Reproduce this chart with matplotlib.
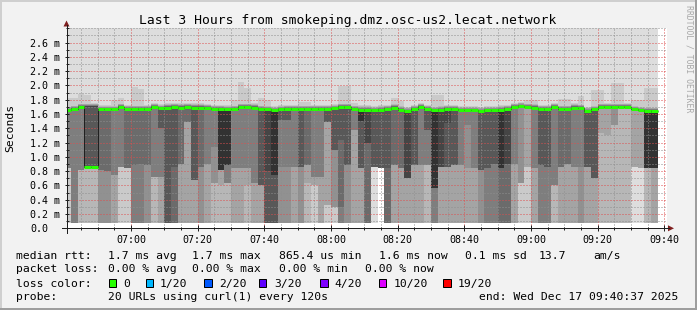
import numpy as np
import matplotlib
matplotlib.use("Agg")
import matplotlib.pyplot as plt
from matplotlib.lines import Line2D
from matplotlib.patches import Rectangle, Polygon
from matplotlib.ticker import FixedLocator, MultipleLocator

# ---------------- data ----------------
title = "Last 3 Hours from smokeping.dmz.osc-us2.lecat.network"
# time in minutes after 06:00
t_start, t_end = 40 + 37 / 60, 220 + 37 / 60
col_first = 40          # first 2-minute column starts 06:40
col_step = 2
x_major = [60, 80, 100, 120, 140, 160, 180, 200, 220]
x_major_labels = ["07:00", "07:20", "07:40", "08:00", "08:20", "08:40", "09:00", "09:20", "09:40"]
y_major = [0.0, 0.2, 0.4, 0.6, 0.8, 1.0, 1.2, 1.4, 1.6, 1.8, 2.0, 2.2, 2.4, 2.6]
y_major_labels = ["0.0", "0.2 m", "0.4 m", "0.6 m", "0.8 m", "1.0 m", "1.2 m", "1.4 m",
                  "1.6 m", "1.8 m", "2.0 m", "2.2 m", "2.4 m", "2.6 m"]

# median rtt (ms) per 2-minute column
median = [1.65, 1.67, 1.70, 0.86, 0.86, 1.665, 1.665, 1.665, 1.70, 1.67,
          1.67, 1.67, 1.67, 1.70, 1.68, 1.69, 1.70, 1.69, 1.70, 1.69,
          1.69, 1.685, 1.67, 1.67, 1.665, 1.67, 1.70, 1.70, 1.69, 1.67,
          1.665, 1.65, 1.665, 1.67, 1.67, 1.67, 1.67, 1.67, 1.67, 1.67,
          1.68, 1.70, 1.70, 1.67, 1.66, 1.66, 1.65, 1.66, 1.67, 1.69,
          1.66, 1.64, 1.67, 1.70, 1.67, 1.65, 1.66, 1.67, 1.67, 1.65,
          1.65, 1.65, 1.64, 1.65, 1.65, 1.66, 1.67, 1.70, 1.71, 1.70,
          1.69, 1.67, 1.67, 1.70, 1.67, 1.67, 1.69, 1.685, 1.64, 1.665,
          1.70, 1.70, 1.70, 1.70, 1.70, 1.665, 1.65, 1.645, 1.645]
# level where the upper half of the pings sits
shoulder = [1.65, 1.67, 1.70, 1.70, 1.70, 1.665, 1.665, 1.665, 1.70, 1.67,
            1.67, 1.67, 1.67, 1.70, 1.68, 1.69, 1.70, 1.69, 1.70, 1.69,
            1.69, 1.685, 1.67, 1.67, 1.665, 1.67, 1.70, 1.70, 1.69, 1.67,
            1.665, 1.65, 1.665, 1.67, 1.67, 1.67, 1.67, 1.67, 1.67, 1.67,
            1.68, 1.70, 1.70, 1.67, 1.66, 1.66, 1.65, 1.66, 1.67, 1.69,
            1.66, 1.64, 1.67, 1.70, 1.67, 1.65, 1.66, 1.67, 1.67, 1.65,
            1.65, 1.65, 1.64, 1.65, 1.65, 1.66, 1.67, 1.70, 1.71, 1.70,
            1.69, 1.67, 1.67, 1.70, 1.67, 1.67, 1.69, 1.685, 1.64, 1.665,
            1.70, 1.70, 1.70, 1.70, 1.70, 1.665, 1.65, 1.645, 1.645]
# lowest ping per column
base = [0.07] * 47 + [0.84] + [0.07] * 41
# smoke layers of the lower pings: ping rank where each level starts
low_band = [2, 6, 3, 3, 3, 5, 5, 4, 2, 2,
            6, 6, 5, 3, 4, 8, 7, 4, 4, 4,
            5, 4, 3, 3, 3, 4, 4, 3, 4, 4,
            8, 8, 5, 5, 4, 5, 3, 2, 4, 2,
            2, 6, 5, 4, 4, 7, 1, 8, 7, 4,
            4, 4, 4, 4, 3, 6, 4, 4, 4, 4,
            4, 4, 5, 6, 6, 7, 7, 4, 2, 2,
            4, 6, 6, 3, 4, 4, 4, 5, 4, 4,
            3, 3, 3, 3, 3, 1, 1, 3, 4]
mid_band = [2, 6, 3, 3, 3, 5, 5, 4, 2, 2,
            6, 6, 5, 3, 6, 8, 7, 4, 4, 4,
            5, 4, 5, 4, 6, 4, 4, 4, 4, 4,
            8, 8, 6, 6, 4, 5, 4, 4, 4, 4,
            5, 7, 5, 4, 8, 7, 1, 8, 7, 4,
            4, 4, 4, 4, 6, 6, 4, 8, 4, 4,
            5, 4, 5, 6, 6, 7, 7, 4, 2, 2,
            4, 6, 6, 3, 4, 4, 4, 5, 4, 4,
            3, 3, 3, 3, 3, 1, 1, 3, 4]
mid_from = [0, 0, 0, 0, 0, 0, 0, 0, 0, 0,
            0, 0, 0, 0, 0.72, 0, 0, 0, 0, 0,
            0, 0, 0.63, 0.60, 0.63, 0, 0, 0.60, 0, 0,
            0, 0, 0.86, 0.86, 0, 0, 0.63, 0.60, 0, 0.33,
            0.30, 0.30, 0, 0, 0.84, 0, 0, 0, 0, 0,
            0, 0, 0, 0, 0.88, 0, 0, 0.86, 0, 0,
            0.84, 0, 0, 0, 0, 0, 0, 0, 0, 0,
            0, 0, 0, 0, 0, 0, 0, 0, 0, 0,
            0, 0, 0, 0, 0, 0, 0, 0, 0]
up_band = [6, 6, 6, 8, 8, 7, 7, 6, 6, 7,
           7, 7, 7, 6, 8, 8, 8, 7, 7, 8,
           7, 6, 6, 10, 10, 6, 6, 6, 6, 8,
           9, 10, 8, 8, 6, 8, 7, 6, 6, 8,
           8, 8, 8, 6, 10, 9, 8, 8, 8, 7,
           7, 9, 8, 6, 8, 10, 9, 9, 8, 6,
           6, 6, 8, 8, 8, 10, 9, 6, 5, 4,
           6, 8, 8, 6, 7, 7, 6, 6, 8, 8,
           4, 4, 5, 3, 3, 4, 4, 10, 10]
up_from = [0.84, 0, 0.82, 0.86, 0.86, 0.82, 0.80, 0.74, 0.86, 0.85,
           0.88, 0.90, 0.88, 0.72, 1.40, 0, 0.86, 0.90, 1.49, 0.67,
           0.86, 0.90, 1.14, 0.82, 0.88, 0.84, 0.84, 0.84, 0.63, 0.60,
           0.80, 0.74, 1.51, 1.51, 0.86, 0.86, 0.88, 0.72, 0.72, 1.49,
           1.09, 1.23, 0.88, 1.37, 1.50, 1.19, 0.86, 0, 0.84, 0.88,
           0.84, 0.70, 0.88, 0.88, 1.37, 0.56, 0.86, 1.47, 0.88, 0.88,
           1.44, 0.84, 0.81, 0.84, 0.90, 0.84, 0.90, 0.90, 0.63, 0.86,
           0.84, 0.88, 0.86, 0.60, 0.86, 0.90, 0.86, 0.86, 0.86, 0.70,
           1.33, 1.30, 1.44, 0, 0, 0.86, 0.84, 0.84, 0.84]
# 19th ping (top of the light smoke above the median)
hump = [1.83, 1.83, 1.875, 1.86, 1.76, 1.73, 1.73, 1.80, 1.82, 1.73,
        1.98, 1.95, 1.73, 1.76, 1.74, 1.75, 1.76, 1.75, 1.76, 1.75,
        1.75, 1.74, 1.73, 1.73, 1.73, 1.80, 2.05, 1.96, 1.75, 1.82,
        1.80, 1.71, 1.73, 1.73, 1.73, 1.77, 1.77, 1.73, 1.73, 1.73,
        1.74, 1.99, 1.99, 1.75, 1.72, 1.72, 1.71, 1.72, 1.73, 1.82,
        1.78, 1.70, 1.73, 1.76, 1.73, 1.87, 1.87, 1.73, 1.73, 1.71,
        1.71, 1.71, 1.70, 1.71, 1.71, 1.72, 1.73, 1.76, 1.77, 1.80,
        1.80, 1.73, 1.73, 1.76, 1.81, 1.81, 1.75, 1.85, 1.70, 1.94,
        1.94, 1.76, 2.03, 2.03, 1.76, 1.80, 1.80, 1.96, 1.96]
max_ping = 3.6   # slowest ping, above the top of the graph
pings_per_round = 20

legend_rows = [
    [(16.4, "median rtt:"), (107.6, "1.7 ms avg"), (192.0, "1.7 ms max"), (279.0, "865.4 us min"),
     (378.7, "1.6 ms now"), (465.0, "0.1 ms sd"), (538.7, "13.7"), (593.0, "am/s")],
    [(16.4, "packet loss:"), (107.6, "0.00 % avg"), (192.0, "0.00 % max"), (279.0, "0.00 % min"),
     (365.3, "0.00 % now")],
    [(16.4, "loss color:")],
    [(16.4, "probe:"), (107.6, "20 URLs using curl(1) every 120s"),
     (478.7, "end: Wed Dec 17 09:40:37 2025")],
]
loss_labels = ["0", "1/20", "2/20", "3/20", "4/20", "10/20", "19/20"]
loss_colors = ["#26ff00", "#00b8ff", "#0059ff", "#5e00ff", "#7e00ff", "#dd00ff", "#ff0000"]
loss_box_x = [108.9, 145.8, 204.4, 258.7, 320.0, 378.7, 443.0]
loss_label_x = [123.6, 160.0, 218.7, 274.2, 334.2, 393.3, 457.8]

# ---------------- figure ----------------
W, H, DPI = 697, 310, 100
MONO = "DejaVu Sans Mono"
plt.rcParams["font.family"] = MONO
fig = plt.figure(figsize=(W / DPI, H / DPI), dpi=DPI, facecolor="#f2f2f2")


def fx(x):
    return x / W


def fy(y):
    return 1 - y / H


PX = 72 / DPI  # points per pixel
ax_left, ax_bottom, ax_w, ax_h = 66.5, 228.3, 600, 200
ax = fig.add_axes([fx(ax_left), fy(ax_bottom), ax_w / W, ax_h / H])
ax.set_facecolor("white")
ax.set_xlim(t_start, t_end)
ax.set_ylim(0, 2.8)
for s in ax.spines.values():
    s.set_visible(False)

# sorted pings per column
n = len(median)
half = pings_per_round // 2
cp = np.zeros((n, pings_per_round + 1))
upper_offsets = [0.004, 0.008, 0.012, 0.016, 0.022, 0.03, 0.038, 0.046]
for j in range(n):
    for i in range(1, half + 1):
        if i <= low_band[j]:
            v = base[j]
        elif i <= mid_band[j]:
            v = mid_from[j]
        elif i <= up_band[j]:
            v = up_from[j]
        else:
            v = shoulder[j] - 0.004
        cp[j, i] = v
    for k, off in enumerate(upper_offsets):
        cp[j, half + 1 + k] = shoulder[j] + off
    cp[j, 19] = max(hump[j], cp[j, 18])
    cp[j, 20] = max_ping

lefts = col_first + col_step * np.arange(n)
for k in range(1, half + 1):
    g = int(190 / half * (half - k)) + 50
    col = "#%02x%02x%02x" % (g, g, g)
    bot = cp[:, k]
    top = cp[:, pings_per_round + 1 - k]
    ax.bar(lefts, top - bot, bottom=bot, width=col_step, align="edge", color=col,
           linewidth=0, antialiased=False, zorder=1 + k * 0.01)

# median line
edges = np.append(lefts, lefts[-1] + col_step)
ax.stairs(median, edges, baseline=None, color="#202020", lw=1 * PX, zorder=3)
ax.hlines(median, lefts, lefts + col_step, color=loss_colors[0], lw=3 * PX, zorder=3.1)

# ticks and grid
ax.xaxis.set_major_locator(FixedLocator(x_major))
ax.set_xticklabels(x_major_labels)
ax.xaxis.set_minor_locator(MultipleLocator(5))
ax.yaxis.set_major_locator(FixedLocator(y_major))
ax.set_yticklabels(y_major_labels)
ax.yaxis.set_minor_locator(MultipleLocator(0.1))
ax.set_axisbelow(False)
ax.grid(which="minor", color=(0.56, 0.56, 0.56, 0.75), lw=1 * PX, linestyle=(0, (1, 2)))
ax.grid(which="major", color=(0.87, 0.31, 0.31, 0.6), lw=1 * PX, linestyle=(0, (1, 2)))
ax.tick_params(which="both", color="#1f1f1f", width=1 * PX, labelsize=7.2, labelcolor="black")
ax.tick_params(axis="x", which="major", direction="inout", length=6 * PX, pad=2.6)
ax.tick_params(axis="x", which="minor", direction="inout", length=3 * PX)
ax.tick_params(axis="y", which="major", direction="inout", length=5 * PX, pad=36.5 * PX - 2.5 * PX)
ax.tick_params(axis="y", which="minor", direction="inout", length=3 * PX)
for lab in ax.get_yticklabels():
    lab.set_horizontalalignment("left")

# axis lines and arrows
axis_col = "#1f1f1f"
arrow_col = "#801f1f"
fig.add_artist(Line2D([fx(62), fx(669)], [fy(228.3), fy(228.3)], color=axis_col, lw=1 * PX))
fig.add_artist(Line2D([fx(66.5), fx(66.5)], [fy(233), fy(25)], color=axis_col, lw=1 * PX))
fig.add_artist(Polygon([(fx(63.5), fy(26.5)), (fx(69.5), fy(26.5)), (fx(66.5), fy(20.5))],
                       closed=True, color=arrow_col, lw=0))
fig.add_artist(Polygon([(fx(668), fy(225.3)), (fx(668), fy(231.3)), (fx(674), fy(228.3))],
                       closed=True, color=arrow_col, lw=0))

# frame shading
fig.add_artist(Rectangle((0, fy(2)), 1, 2 / H, color="#cfcfcf", lw=0))
fig.add_artist(Rectangle((0, 0), 2 / W, 1, color="#cfcfcf", lw=0))
fig.add_artist(Rectangle((0, 0), 1, 2 / H, color="#9e9e9e", lw=0))
fig.add_artist(Rectangle((1 - 2 / W, 0), 2 / W, 1, color="#9e9e9e", lw=0))

# texts
fig.text(fx(347.5), fy(24), title, ha="center", va="baseline", fontsize=9.4, color="black")
fig.text(fx(10.5), fy(128), "Seconds", rotation=90, ha="center", va="center", fontsize=8.2)
fig.text(fx(688.5), fy(5), "RRDTOOL / TOBI OETIKER", rotation=270, ha="center", va="top",
         fontsize=5.9, color="#a8a8a8")

row_baselines = [258.8, 272.5, 286.8, 300.2]
for row, yb in zip(legend_rows, row_baselines):
    for x, s in row:
        fig.text(fx(x), fy(yb), s, ha="left", va="baseline", fontsize=8.2, color="black")
for bx, lx, lab, c in zip(loss_box_x, loss_label_x, loss_labels, loss_colors):
    fig.add_artist(Rectangle((fx(bx), fy(286.7)), 7.5 / W, 8 / H, facecolor=c,
                             edgecolor="black", lw=1 * PX))
    fig.text(fx(lx), fy(row_baselines[2]), lab, ha="left", va="baseline", fontsize=8.2)

fig.savefig("out.png", dpi=DPI, facecolor=fig.get_facecolor())
